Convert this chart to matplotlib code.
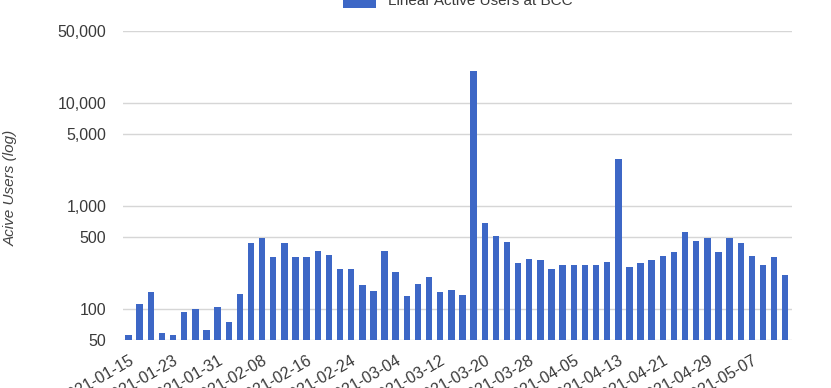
import numpy as np
import pandas as pd
import matplotlib
matplotlib.use('Agg')
import matplotlib.pyplot as plt
from matplotlib.ticker import FixedLocator, FuncFormatter, NullLocator

plt.rcParams['font.family'] = ['Liberation Sans', 'DejaVu Sans']

# one bar every two days
dates = pd.date_range('2021-01-15', periods=60, freq='2D')
users = [56, 112, 145, 59, 56, 93, 99, 63, 104, 74,
         140, 436, 488, 319, 436, 319, 319, 365, 338, 247,
         247, 171, 150, 365, 228, 133, 175, 203, 145, 153,
         137, 20500, 678, 514, 446, 277, 309, 300, 247, 270,
         270, 270, 270, 285, 2880, 253, 277, 302, 328, 356,
         558, 460, 488, 356, 488, 436, 328, 270, 319, 214]
y_ticks = [50, 100, 500, 1000, 5000, 10000, 50000]
series_name = 'Linear Active Users at BCC'

blue = '#3d67c6'
grid_col = '#d6d6d6'
text_col = '#3a3a3a'

fig = plt.figure(figsize=(8.31, 3.88), dpi=100)
ax = fig.add_axes([0.148, 0.1237, 0.805, 0.7963])

x = np.arange(len(users))
ax.bar(x, users, width=0.58, color=blue, label=series_name, zorder=3)

ax.set_yscale('log', nonpositive='clip')
ax.set_ylim(50, 50000)
ax.set_xlim(-0.5, 59.6)

ax.yaxis.set_major_locator(FixedLocator(y_ticks))
ax.yaxis.set_minor_locator(NullLocator())
ax.yaxis.set_major_formatter(FuncFormatter(lambda v, p: f'{int(v):,}'))
ax.grid(axis='y', color=grid_col, linewidth=1.0, zorder=0)

tick_pos = x[::4]
tick_lab = [d.strftime('%Y-%m-%d') for d in dates[::4]]
ax.set_xticks(tick_pos)
ax.set_xticklabels(tick_lab, rotation=30, ha='right', va='top',
                   rotation_mode='anchor')

ax.tick_params(axis='y', length=0, pad=12, labelsize=11.5, labelcolor=text_col)
ax.tick_params(axis='x', length=0, pad=9.5, labelsize=11.5, labelcolor=text_col)

for s in ax.spines.values():
    s.set_visible(False)

fig.text(0.013, 0.517, 'Acive Users (log)', rotation=90, style='italic',
         fontsize=11, color='#444444', ha='center', va='center')

fig.legend(loc='center', bbox_to_anchor=(0.551, 1.0), frameon=False,
           fontsize=11, handlelength=2.2, handleheight=1.2,
           labelcolor=text_col)

fig.savefig('out.png', dpi=100)
